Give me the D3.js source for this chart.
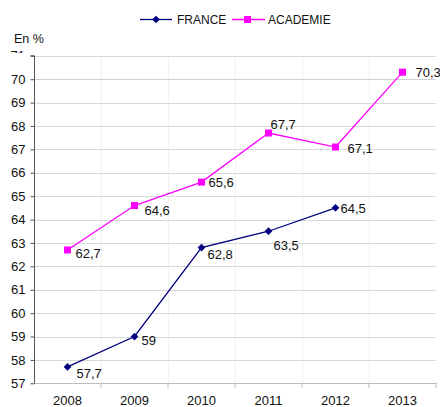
<!DOCTYPE html>
<html><head><meta charset="utf-8">
<script src="https://cdn.jsdelivr.net/npm/d3@7"></script>
<style>body{margin:0;background:#fff}svg{display:block}text{font-family:"Liberation Sans",Arial,sans-serif}</style>
</head><body>
<script>
const years = ["2008","2009","2010","2011","2012","2013"];
const franceValues = [57.7, 59, 62.8, 63.5, 64.5, null];
const academieValues = [62.7, 64.6, 65.6, 67.7, 67.1, 70.3];
const franceLabels = ["57,7","59","62,8","63,5","64,5",null];
const academieLabels = ["62,7","64,6","65,6","67,7","67,1","70,3"];
const yTicks = [57,58,59,60,61,62,63,64,65,66,67,68,69,70,71];
const seriesNames = ["FRANCE","ACADEMIE"];

const W = 440, H = 407;
const svg = d3.select("body").append("svg").attr("width", W).attr("height", H);

const x = d3.scaleBand().domain(years).range([34, 436]);
const y = d3.scaleLinear().domain([57, 71]).range([383.3, 55.8]);

svg.append("defs").append("clipPath").attr("id","topclip")
  .append("rect").attr("x",0).attr("y",0).attr("width",W).attr("height",53);

// vertical faint lines
svg.append("g").selectAll("line").data(years.slice(1)).join("line")
  .attr("x1", d => x(d)+0.5).attr("x2", d => x(d)+0.5)
  .attr("y1", y(71)).attr("y2", y(57))
  .attr("stroke", "#f1f1f1").attr("stroke-width", 1);

// horizontal gridlines
svg.append("g").selectAll("line").data(yTicks.filter(d => d > 57)).join("line")
  .attr("x1", 34).attr("x2", 436)
  .attr("y1", d => Math.round(y(d))+0.5).attr("y2", d => Math.round(y(d))+0.5)
  .attr("stroke", d => d === 70 ? "#cfcfcf" : "#d9d9d9").attr("stroke-width", 1);

// x axis
const xAxis = svg.append("g").attr("transform", `translate(0,${Math.round(y(57))+0.5})`)
  .call(d3.axisBottom(x).tickSize(0).tickPadding(12));
xAxis.select(".domain").attr("stroke", "#bdbdbd").attr("d", "M34,0H437");
xAxis.selectAll("text").attr("font-size", 13).attr("fill", "#111").attr("dy", "0.71em");
svg.append("g").selectAll("line").data(years).join("line")
  .attr("x1", d => x(d)+x.bandwidth()).attr("x2", d => x(d)+x.bandwidth())
  .attr("y1", Math.round(y(57))).attr("y2", Math.round(y(57))+5)
  .attr("stroke", "#bdbdbd");

// y axis
const yAxis = svg.append("g").attr("transform", "translate(34.5,0)")
  .call(d3.axisLeft(y).tickValues(yTicks).tickSize(4).tickPadding(5).tickFormat(d3.format("d")));
yAxis.select(".domain").attr("stroke", "#555").attr("d", `M-4,${y(71)}H0V${y(57)}`);
yAxis.selectAll(".tick line").attr("stroke", "#555");
yAxis.selectAll("text").attr("font-size", 13).attr("fill", "#111");
yAxis.selectAll(".tick").filter(d => d === 71).select("text").remove();
svg.append("g").attr("clip-path","url(#topclip)")
  .append("text").attr("x", 25).attr("y", y(71)).attr("dy","0.32em")
  .attr("text-anchor","end").attr("font-size",13).attr("fill","#111").text("71");

// "En %"
svg.append("text").attr("x", 14).attr("y", 43).attr("font-size", 12.5).attr("fill", "#111").text("En %");

const cx = d => x(d) + x.bandwidth()/2;
const line = d3.line().defined(d => d.v != null).x(d => cx(d.k)).y(d => y(d.v));

const fr = years.map((k,i) => ({k, v: franceValues[i], l: franceLabels[i]}));
const ac = years.map((k,i) => ({k, v: academieValues[i], l: academieLabels[i]}));

const navy = "#000080", mag = "#ff00ff";

svg.append("path").datum(ac).attr("d", line).attr("fill","none").attr("stroke", mag).attr("stroke-width", 1.3);
svg.append("path").datum(fr).attr("d", line).attr("fill","none").attr("stroke", navy).attr("stroke-width", 1.3);

svg.append("g").selectAll("rect").data(ac.filter(d => d.v != null)).join("rect")
  .attr("x", d => cx(d.k)-3.5).attr("y", d => y(d.v)-3.5).attr("width", 7).attr("height", 7).attr("fill", mag);
svg.append("g").selectAll("path").data(fr.filter(d => d.v != null)).join("path")
  .attr("d", d3.symbol().type(d3.symbolSquare).size(30))
  .attr("transform", d => `translate(${cx(d.k)},${y(d.v)}) rotate(45)`)
  .attr("fill", navy);

// data labels with per-point placement
const frOff = [[9,7],[7,4],[6,7],[5,14],[5,1],null];
const acOff = [[8,3],[10,5],[7,0],[2,-9],[12,1],[13,0]];
function labels(data, offs){
  svg.append("g").selectAll("text").data(data.filter(d => d.v != null)).join("text")
    .attr("x", (d,i) => cx(d.k) + offs[i][0])
    .attr("y", (d,i) => y(d.v) + offs[i][1])
    .attr("dy", "0.35em").attr("font-size", 13).attr("fill", "#111").text(d => d.l);
}
labels(fr, frOff);
labels(ac, acOff);

// legend
const lg = svg.append("g");
lg.append("line").attr("x1",140).attr("x2",172).attr("y1",19.5).attr("y2",19.5).attr("stroke",navy).attr("stroke-width",1.3);
lg.append("path").attr("transform","translate(156,19.5) rotate(45)").attr("d", d3.symbol().type(d3.symbolSquare).size(30)).attr("fill",navy);
lg.append("text").attr("x",177).attr("y",23.5).attr("font-size",12).attr("fill","#111").text(seriesNames[0]);
lg.append("line").attr("x1",232).attr("x2",265).attr("y1",19.5).attr("y2",19.5).attr("stroke",mag).attr("stroke-width",1.3);
lg.append("rect").attr("x",244).attr("y",16).attr("width",7).attr("height",7).attr("fill",mag);
lg.append("text").attr("x",268).attr("y",23.5).attr("font-size",12).attr("fill","#111").text(seriesNames[1]);
</script>
</body></html>
